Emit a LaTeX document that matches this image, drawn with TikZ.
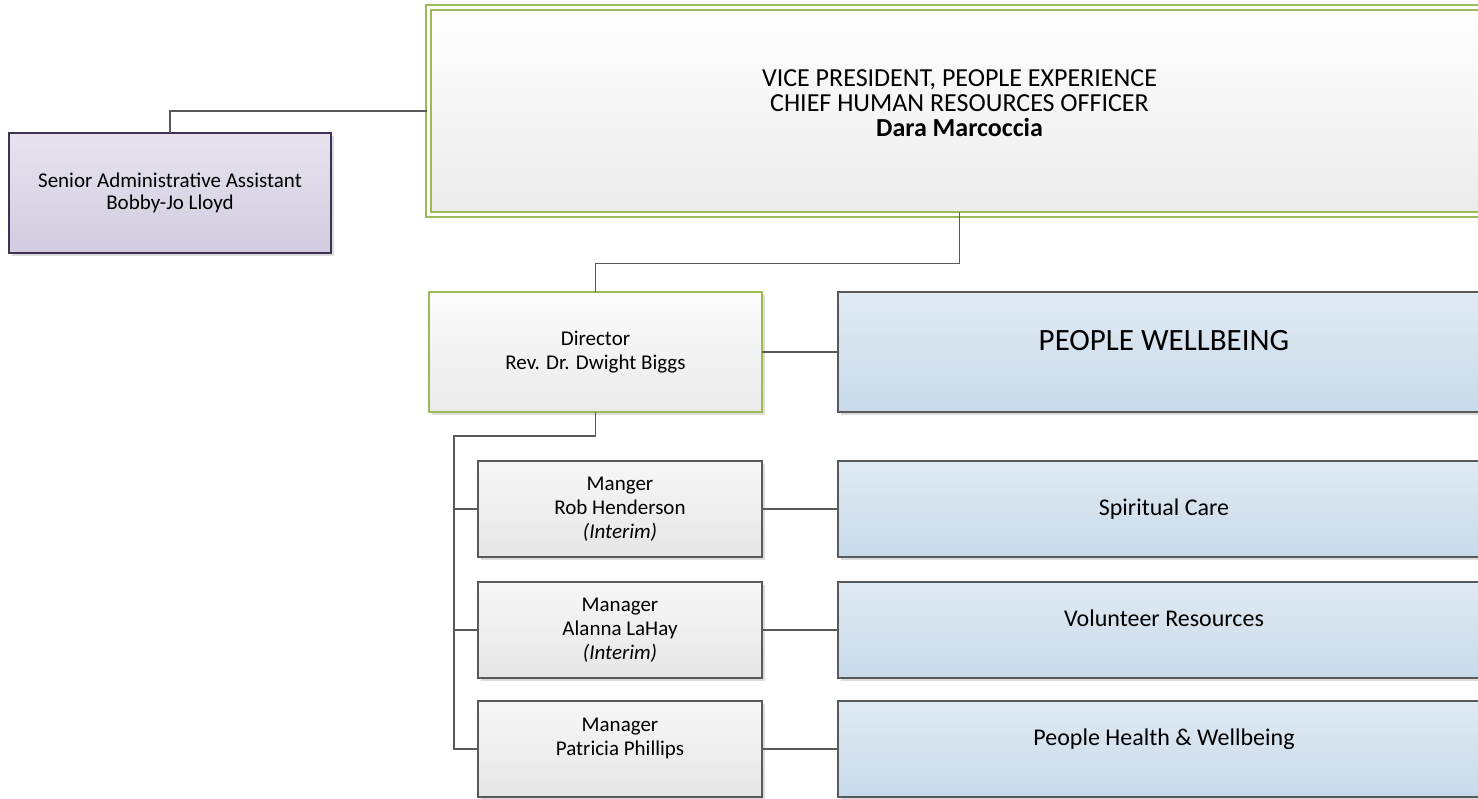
\documentclass[tikz,border=0pt]{standalone}
\usepackage{fontspec}
\setmainfont{Carlito}
\usetikzlibrary{shadows,calc}
\definecolor{lineg}{HTML}{595959}
\definecolor{grn}{HTML}{9BBB59}
\definecolor{purp}{HTML}{403152}
\definecolor{lavtop}{HTML}{E7E3EE}
\definecolor{lavbot}{HTML}{D3CBE0}
\definecolor{bluetop}{HTML}{E0EAF3}
\definecolor{bluebot}{HTML}{C8DAEA}
\definecolor{graytop}{HTML}{F7F7F7}
\definecolor{graybot}{HTML}{E6E6E6}
\definecolor{shad}{HTML}{DCDCDC}
\begin{document}
\begin{tikzpicture}[x=1pt,y=-1pt,
  base/.style={rectangle, anchor=north west, inner sep=0pt, outer sep=0pt, align=center,
    line width=1.3pt, text=black,
    drop shadow={shadow xshift=3pt, shadow yshift=-3pt, fill=shad, opacity=1}},
  adminbox/.style={base, draw=purp, top color=lavtop, bottom color=lavbot, font=\fontsize{21}{22.5}\selectfont},
  vpbox/.style={base, draw=grn, line width=1.6pt, double=white, double distance=3pt, top color=white, bottom color=graybot!80,
    font=\fontsize{26}{25}\selectfont},
  dirbox/.style={base, draw=grn, top color=white!60!graytop, bottom color=graybot!85, font=\fontsize{21}{24}\selectfont},
  mgrbox/.style={base, draw=lineg, top color=graytop, bottom color=graybot, font=\fontsize{21}{24}\selectfont},
  unitbox/.style={base, draw=lineg, top color=bluetop, bottom color=bluebot, font=\fontsize{24}{24}\selectfont},
  link/.style={draw=lineg, line width=1.3pt}
]
\useasboundingbox (0,0) rectangle (1478,799);
\clip (0,0) rectangle (1478,799);
\fill[white] (0,0) rectangle (1478,799);

% nodes
\node[vpbox, minimum width=1062pt, minimum height=207pt] (vp) at (428.5,7.5)
  {VICE PRESIDENT, PEOPLE EXPERIENCE\\CHIEF HUMAN RESOURCES OFFICER\\\textbf{Dara Marcoccia}\\[-9pt]~};
\node[adminbox, minimum width=322pt, minimum height=120pt] (adm) at (9,133)
  {Senior Administrative Assistant\\Bobby-Jo Lloyd};
\node[dirbox, minimum width=333pt, minimum height=120pt] (dir) at (429,292)
  {Director\\Rev. Dr. Dwight Biggs};
\node[unitbox, minimum width=652pt, minimum height=120pt, font=\fontsize{31}{33}\selectfont] (pw) at (838,292)
  {PEOPLE WELLBEING\\[-9pt]~};
\node[mgrbox, minimum width=284pt, minimum height=96pt] (rob) at (478,461)
  {Manger\\Rob Henderson\\\textit{(Interim)}};
\node[mgrbox, minimum width=284pt, minimum height=96pt] (ala) at (478,582)
  {Manager\\Alanna LaHay\\\textit{(Interim)}};
\node[mgrbox, minimum width=284pt, minimum height=96pt] (pat) at (478,701)
  {Manager\\Patricia Phillips\\~};
\node[unitbox, minimum width=652pt, minimum height=96pt] (sc) at (838,461) {Spiritual Care};
\node[unitbox, minimum width=652pt, minimum height=96pt] (vr) at (838,582) {Volunteer Resources\\~};
\node[unitbox, minimum width=652pt, minimum height=96pt] (ph) at (838,701) {People Health \& Wellbeing\\~};

% connectors
\draw[link] (adm.north) |- ([xshift=-2pt]vp.west);
\draw[link] ([yshift=2pt]vp.south) -- ++(0,51) -| (dir.north);
\draw[link] (dir.east) -- (pw.west);
\draw[link] (dir.south) -- ++(0,24) -| ([xshift=-24pt]pat.west) -- (pat.west);
\draw[link] (rob.west) -- ++(-24,0);
\draw[link] (ala.west) -- ++(-24,0);
\draw[link] (rob.east) -- (sc.west);
\draw[link] (ala.east) -- (vr.west);
\draw[link] (pat.east) -- (ph.west);
\end{tikzpicture}
\end{document}
